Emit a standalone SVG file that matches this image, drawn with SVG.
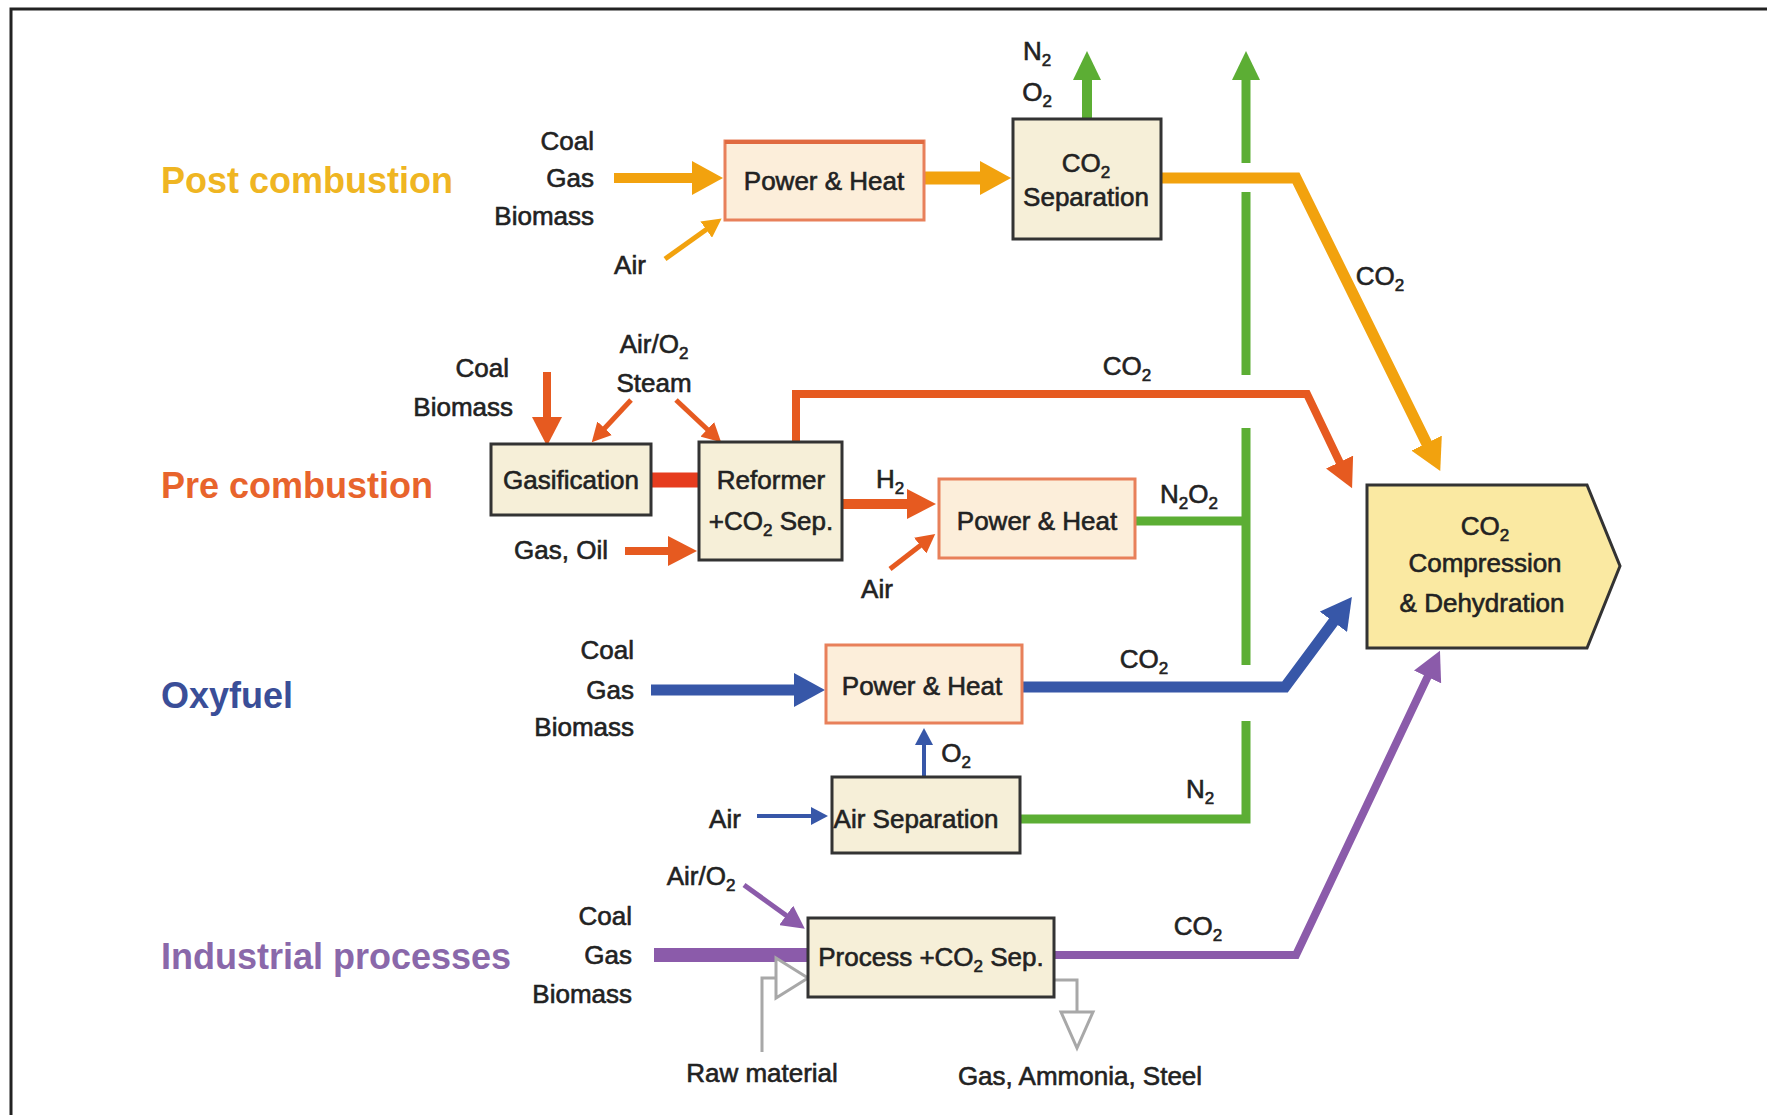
<svg xmlns="http://www.w3.org/2000/svg" width="1767" height="1115" viewBox="0 0 1767 1115">
<style>
text{font-family:"Liberation Sans",Arial,sans-serif;fill:#222}
.lbl{font-size:26px;stroke:#222;stroke-width:0.6}
.sec{font-size:36px;font-weight:bold}
.r{text-anchor:end}
.m{text-anchor:middle}
.box{fill:#F6EFD8;stroke:#333;stroke-width:3}
.ph{fill:#FCEEDA;stroke:#E8805A;stroke-width:3}
.cmp{fill:#FAE9A2;stroke:#333;stroke-width:3}
.ln{fill:none;stroke-linejoin:miter}
.or{stroke:#F2A20E}
.rd{stroke:#E65A20}
.bl{stroke:#3757A8}
.gr{stroke:#5CAE34}
.pu{stroke:#8B5BAA}
.gy{stroke:#A8A8A8;fill:none}
</style>
<defs>
<marker id="aOr" markerUnits="userSpaceOnUse" markerWidth="32" markerHeight="34" refX="1" refY="17" orient="auto"><path d="M0,0 L31,17 L0,34 z" fill="#F2A20E"/></marker>
<marker id="aOrS" markerUnits="userSpaceOnUse" markerWidth="20" markerHeight="20" refX="1" refY="10" orient="auto"><path d="M0,0 L19,10 L0,20 z" fill="#F2A20E"/></marker>
<marker id="aRd" markerUnits="userSpaceOnUse" markerWidth="30" markerHeight="30" refX="1" refY="15" orient="auto"><path d="M0,0 L29,15 L0,30 z" fill="#E65A20"/></marker>
<marker id="aRdS" markerUnits="userSpaceOnUse" markerWidth="20" markerHeight="20" refX="1" refY="10" orient="auto"><path d="M0,0 L19,10 L0,20 z" fill="#E65A20"/></marker>
<marker id="aBl" markerUnits="userSpaceOnUse" markerWidth="32" markerHeight="34" refX="1" refY="17" orient="auto"><path d="M0,0 L31,17 L0,34 z" fill="#3757A8"/></marker>
<marker id="aBlS" markerUnits="userSpaceOnUse" markerWidth="18" markerHeight="18" refX="1" refY="9" orient="auto"><path d="M0,0 L17,9 L0,18 z" fill="#3757A8"/></marker>
<marker id="aGr" markerUnits="userSpaceOnUse" markerWidth="30" markerHeight="28" refX="1" refY="14" orient="auto"><path d="M0,0 L29,14 L0,28 z" fill="#5CAE34"/></marker>
<marker id="aPu" markerUnits="userSpaceOnUse" markerWidth="30" markerHeight="30" refX="1" refY="15" orient="auto"><path d="M0,0 L29,15 L0,30 z" fill="#8B5BAA"/></marker>
<marker id="aPuS" markerUnits="userSpaceOnUse" markerWidth="24" markerHeight="24" refX="1" refY="12" orient="auto"><path d="M0,0 L23,12 L0,24 z" fill="#8B5BAA"/></marker>
</defs>
<rect width="1767" height="1115" fill="#fff"/>
<path d="M11,1115 V9 H1767" fill="none" stroke="#222" stroke-width="3"/>

<g id="connectors">
<line class="ln or" x1="614" y1="178" x2="693" y2="178" stroke-width="10" marker-end="url(#aOr)"/>
<line class="ln or" x1="665" y1="259" x2="707" y2="229" stroke-width="5" marker-end="url(#aOrS)"/>
<line class="ln or" x1="924" y1="178" x2="981" y2="178" stroke-width="13" marker-end="url(#aOr)"/>
<line class="ln gr" x1="1087" y1="119" x2="1087" y2="79" stroke-width="10" marker-end="url(#aGr)"/>
<path class="ln or" d="M1161,178 H1296 L1427,444" stroke-width="11" marker-end="url(#aOr)"/>
<path class="ln gr" d="M1246,163 V79" stroke-width="9" marker-end="url(#aGr)"/>
<line class="ln gr" x1="1246" y1="192" x2="1246" y2="375" stroke-width="9"/>
<line class="ln gr" x1="1246" y1="428" x2="1246" y2="665" stroke-width="9"/>
<path class="ln gr" d="M1020,819 H1246 V721" stroke-width="9"/>
<line class="ln gr" x1="1135" y1="521" x2="1246" y2="521" stroke-width="9"/>
<line class="ln rd" x1="547" y1="372" x2="547" y2="418" stroke-width="8" marker-end="url(#aRd)"/>
<line class="ln rd" x1="631" y1="400" x2="604" y2="429" stroke-width="5" marker-end="url(#aRdS)"/>
<line class="ln rd" x1="676" y1="400" x2="708" y2="430" stroke-width="5" marker-end="url(#aRdS)"/>
<line x1="651" y1="480" x2="699" y2="480" stroke="#E63C1E" stroke-width="15"/>
<line class="ln rd" x1="625" y1="551" x2="669" y2="551" stroke-width="8" marker-end="url(#aRd)"/>
<path class="ln rd" d="M796,442 V394 H1307 L1340,463" stroke-width="8" marker-end="url(#aRd)"/>
<line class="ln rd" x1="842" y1="504" x2="908" y2="504" stroke-width="10" marker-end="url(#aRd)"/>
<line class="ln rd" x1="890" y1="569" x2="921" y2="545" stroke-width="5" marker-end="url(#aRdS)"/>
<line class="ln bl" x1="651" y1="690" x2="795" y2="690" stroke-width="11" marker-end="url(#aBl)"/>
<path class="ln bl" d="M1022,687 H1285 L1334,621" stroke-width="11" marker-end="url(#aBl)"/>
<line class="ln bl" x1="924" y1="777" x2="924" y2="744" stroke-width="4" marker-end="url(#aBlS)"/>
<line class="ln bl" x1="757" y1="816" x2="812" y2="816" stroke-width="4" marker-end="url(#aBlS)"/>
<line class="ln pu" x1="744" y1="885" x2="787" y2="916" stroke-width="5" marker-end="url(#aPuS)"/>
<line x1="654" y1="955" x2="808" y2="955" stroke="#8B5BAA" stroke-width="14"/>
<path class="ln pu" d="M1054,955 H1296 L1428,676" stroke-width="8" marker-end="url(#aPu)"/>
<path class="gy" d="M762,1052 V978 H776" stroke-width="3"/>
<path d="M776,958 L808,978 L776,998 z" fill="#fff" stroke="#A8A8A8" stroke-width="3"/>
<path class="gy" d="M1054,980 H1077 V1012" stroke-width="3"/>
<path d="M1061,1012 L1093,1012 L1077,1048 z" fill="#fff" stroke="#A8A8A8" stroke-width="3"/>
</g>

<g id="labels">
<text class="sec" x="161" y="193" style="fill:#EFB522">Post combustion</text>
<text class="sec" x="161" y="498" style="fill:#E8642C">Pre combustion</text>
<text class="sec" x="161" y="708" style="fill:#3A4E98">Oxyfuel</text>
<text class="sec" x="161" y="969" style="fill:#8A68AA">Industrial processes</text>

<text class="lbl r" x="594" y="150">Coal</text>
<text class="lbl r" x="594" y="187">Gas</text>
<text class="lbl r" x="594" y="225">Biomass</text>
<text class="lbl m" x="630" y="274">Air</text>
<text class="lbl m" x="1037" y="60">N<tspan font-size="17" dy="6">2</tspan></text>
<text class="lbl m" x="1037" y="101">O<tspan font-size="17" dy="6">2</tspan></text>
<text class="lbl m" x="1380" y="285">CO<tspan font-size="17" dy="6">2</tspan></text>

<text class="lbl r" x="509" y="377">Coal</text>
<text class="lbl r" x="513" y="416">Biomass</text>
<text class="lbl m" x="654" y="353">Air/O<tspan font-size="17" dy="6">2</tspan></text>
<text class="lbl m" x="654" y="392">Steam</text>
<text class="lbl r" x="608" y="559">Gas, Oil</text>
<text class="lbl m" x="890" y="488">H<tspan font-size="17" dy="6">2</tspan></text>
<text class="lbl m" x="877" y="598">Air</text>
<text class="lbl m" x="1189" y="503">N<tspan font-size="17" dy="6">2</tspan><tspan dy="-6">O</tspan><tspan font-size="17" dy="6">2</tspan></text>
<text class="lbl m" x="1127" y="375">CO<tspan font-size="17" dy="6">2</tspan></text>

<text class="lbl r" x="634" y="659">Coal</text>
<text class="lbl r" x="634" y="699">Gas</text>
<text class="lbl r" x="634" y="736">Biomass</text>
<text class="lbl m" x="1144" y="668">CO<tspan font-size="17" dy="6">2</tspan></text>
<text class="lbl m" x="956" y="762">O<tspan font-size="17" dy="6">2</tspan></text>
<text class="lbl m" x="725" y="828">Air</text>
<text class="lbl m" x="1200" y="798">N<tspan font-size="17" dy="6">2</tspan></text>

<text class="lbl m" x="701" y="885">Air/O<tspan font-size="17" dy="6">2</tspan></text>
<text class="lbl r" x="632" y="925">Coal</text>
<text class="lbl r" x="632" y="964">Gas</text>
<text class="lbl r" x="632" y="1003">Biomass</text>
<text class="lbl m" x="1198" y="935">CO<tspan font-size="17" dy="6">2</tspan></text>
<text class="lbl m" x="762" y="1082">Raw material</text>
<text class="lbl m" x="1080" y="1085">Gas, Ammonia, Steel</text>
</g>

<g id="ph-post"><rect class="ph" x="725" y="141" width="199" height="79"/><line x1="725" y1="142" x2="924" y2="142" stroke="#E06A40" stroke-width="4"/><text class="lbl m" x="824" y="190">Power &amp; Heat</text></g>
<g id="co2-sep"><rect class="box" x="1013" y="119" width="148" height="120"/><text class="lbl m" x="1086" y="172">CO<tspan font-size="17" dy="6">2</tspan></text><text class="lbl m" x="1086" y="206">Separation</text></g>
<g id="gasification"><rect class="box" x="491" y="444" width="160" height="71"/><text class="lbl m" x="571" y="489">Gasification</text></g>
<g id="reformer"><rect class="box" x="699" y="442" width="143" height="118"/><text class="lbl m" x="771" y="489">Reformer</text><text class="lbl m" x="771" y="530">+CO<tspan font-size="17" dy="6">2</tspan><tspan dy="-6"> Sep.</tspan></text></g>
<g id="ph-pre"><rect class="ph" x="939" y="479" width="196" height="79"/><text class="lbl m" x="1037" y="530">Power &amp; Heat</text></g>
<g id="ph-oxy"><rect class="ph" x="826" y="645" width="196" height="78"/><text class="lbl m" x="922" y="695">Power &amp; Heat</text></g>
<g id="air-sep"><rect class="box" x="832" y="777" width="188" height="76"/><text class="lbl m" x="916" y="828">Air Separation</text></g>
<g id="process"><rect class="box" x="808" y="918" width="246" height="79"/><text class="lbl m" x="931" y="966">Process +CO<tspan font-size="17" dy="6">2</tspan><tspan dy="-6"> Sep.</tspan></text></g>
<g id="compression"><path class="cmp" d="M1367,485 H1587 L1620,566 L1587,648 H1367 z"/><text class="lbl m" x="1485" y="535">CO<tspan font-size="17" dy="6">2</tspan></text><text class="lbl m" x="1485" y="572">Compression</text><text class="lbl m" x="1482" y="612">&amp; Dehydration</text></g>
</svg>
